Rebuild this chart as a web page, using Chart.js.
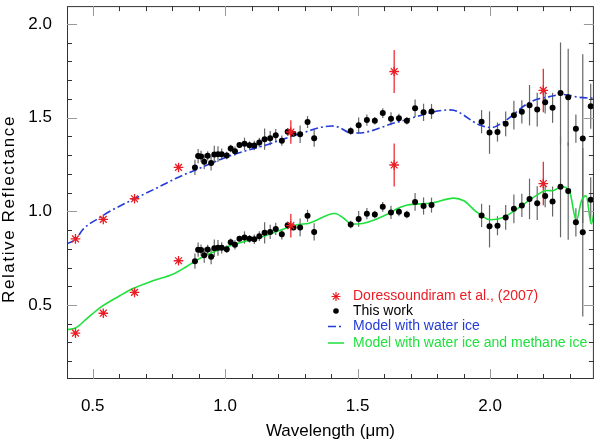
<!DOCTYPE html>
<html>
<head>
<meta charset="utf-8">
<script src="https://cdn.jsdelivr.net/npm/chart.js@4.4.1/dist/chart.umd.min.js"></script>
<style>
  html, body { margin: 0; padding: 0; background: #fff; }
  #wrap { position: relative; width: 600px; height: 444px; }
</style>
</head>
<body>
<div id="wrap"><canvas id="chart"></canvas></div>
<script>
// "This work" spectrum (two copies, the upper one shifted for the water ice model)
const workWave = [0.886, 0.898, 0.909, 0.921, 0.934, 0.947, 0.959, 0.973, 0.987, 1.006,
  1.021, 1.037, 1.054, 1.073, 1.092, 1.110, 1.129, 1.149, 1.170, 1.191, 1.214, 1.236,
  1.258, 1.283, 1.311, 1.336, 1.474, 1.504, 1.535, 1.565, 1.595, 1.626, 1.656, 1.686,
  1.717, 1.749, 1.779, 1.968, 1.998, 2.028, 2.059, 2.090, 2.120, 2.149, 2.178, 2.208,
  2.236, 2.266, 2.295, 2.324, 2.350, 2.380];
const workUpper = [1.234, 1.295, 1.293, 1.265, 1.296, 1.258, 1.303, 1.305, 1.305, 1.298,
  1.335, 1.321, 1.354, 1.360, 1.353, 1.351, 1.367, 1.385, 1.390, 1.406, 1.377, 1.425,
  1.414, 1.411, 1.476, 1.390, 1.429, 1.459, 1.487, 1.483, 1.524, 1.494, 1.497, 1.483,
  1.550, 1.528, 1.533, 1.478, 1.420, 1.423, 1.467, 1.513, 1.531, 1.566, 1.543, 1.582,
  1.552, 1.631, 1.608, 1.441, 1.388, 1.561];
const workLower = [0.734, 0.795, 0.793, 0.765, 0.796, 0.758, 0.803, 0.805, 0.805, 0.798,
  0.835, 0.821, 0.854, 0.860, 0.853, 0.851, 0.867, 0.885, 0.890, 0.906, 0.877, 0.925,
  0.914, 0.914, 0.976, 0.890, 0.929, 0.959, 0.987, 0.983, 1.024, 0.994, 0.997, 0.983,
  1.050, 1.028, 1.033, 0.978, 0.920, 0.923, 0.967, 1.013, 1.031, 1.066, 1.043, 1.082,
  1.052, 1.131, 1.108, 0.941, 0.888, 1.061];
const workErr = [0.041, 0.038, 0.03, 0.04, 0.025, 0.04, 0.047, 0.042, 0.03, 0.02,
  0.02, 0.025, 0.015, 0.033, 0.02, 0.025, 0.026, 0.057, 0.038, 0.033, 0.027, 0.02,
  0.015, 0.047, 0.032, 0.046, 0.02, 0.042, 0.03, 0.02, 0.026, 0.035, 0.024, 0.02,
  0.047, 0.046, 0.04, 0.062, 0.113, 0.051, 0.066, 0.077, 0.062, 0.108, 0.09, 0.06,
  0.08, 0.27, 0.26, 0.075, 0.45, 0.12];

// Doressoundiram et al. (2007) photometry
const starWave = [0.435, 0.540, 0.658, 0.824, 1.248, 1.638, 2.201];
const starUpper = [0.853, 0.957, 1.067, 1.234, 1.423, 1.746, 1.645];
const starLower = [0.350, 0.456, 0.567, 0.736, 0.923, 1.247, 1.148];
const starErr = [0, 0, 0, 0, 0.063, 0.115, 0.116];

// models
const waterWave = [0.40, 0.435, 0.465, 0.527, 0.565, 0.658, 0.740, 0.815, 0.902, 1.026,
  1.152, 1.276, 1.401, 1.426, 1.476, 1.501, 1.651, 1.851, 1.963, 2.006, 2.05, 2.15,
  2.225, 2.275, 2.337, 2.40];
const waterRefl = [0.826, 0.850, 0.906, 0.967, 1.000, 1.067, 1.123, 1.176, 1.229, 1.300,
  1.353, 1.411, 1.455, 1.450, 1.418, 1.418, 1.476, 1.541, 1.459, 1.447, 1.476, 1.582,
  1.612, 1.623, 1.608, 1.603];
const methaneWave = [0.40, 0.435, 0.478, 0.527, 0.602, 0.652, 0.727, 0.802, 0.852, 0.902,
  1.002, 1.152, 1.276, 1.314, 1.414, 1.451, 1.476, 1.501, 1.614, 1.651, 1.688, 1.776,
  1.863, 1.901, 1.951, 2.0, 2.05, 2.113, 2.175, 2.213, 2.238, 2.269, 2.30, 2.326, 2.345,
  2.363, 2.382, 2.40];
const methaneRefl = [0.368, 0.377, 0.427, 0.485, 0.549, 0.588, 0.629, 0.664, 0.703, 0.747,
  0.808, 0.870, 0.929, 0.935, 0.988, 0.959, 0.932, 0.932, 0.985, 1.015, 1.034, 1.043,
  1.070, 1.056, 0.994, 0.955, 0.967, 1.024, 1.085, 1.111, 1.110, 1.131, 1.106, 0.950,
  1.056, 1.082, 0.932, 1.066];

const xTicks = [0.5, 1.0, 1.5, 2.0];
const yTicks = [0.5, 1.0, 1.5, 2.0];
const legendNames = ["Doressoundiram et al., (2007)", "This work", "Model with water ice",
  "Model with water ice and methane ice"];

const RED = "rgb(235,28,36)";
const BLUE = "rgb(35,60,215)";
const GREEN = "rgb(30,225,60)";
const FONT = "'Liberation Sans', Arial, Helvetica, sans-serif";

const toPoints = (xs, ys) => xs.map((x, i) => ({ x: x, y: ys[i] }));

// error bars, drawn under the markers
const errorBars = {
  id: "errorBars",
  beforeDatasetsDraw(chart) {
    const { ctx, chartArea, scales } = chart;
    ctx.save();
    ctx.beginPath();
    ctx.rect(chartArea.left, chartArea.top, chartArea.width, chartArea.height);
    ctx.clip();
    chart.data.datasets.forEach(ds => {
      if (!ds.errors) return;
      ctx.strokeStyle = ds.errorColor;
      ctx.lineWidth = 1.2;
      ds.data.forEach((p, i) => {
        const e = ds.errors[i];
        if (!e) return;
        const x = scales.x.getPixelForValue(p.x);
        ctx.beginPath();
        ctx.moveTo(x, scales.y.getPixelForValue(p.y - e));
        ctx.lineTo(x, scales.y.getPixelForValue(p.y + e));
        ctx.stroke();
      });
    });
    ctx.restore();
  }
};

// IDL style box with inward ticks, y title and the legend
const frame = {
  id: "frame",
  afterDraw(chart) {
    const { ctx, chartArea: a, scales } = chart;
    const sx = scales.x, sy = scales.y;
    ctx.save();
    ctx.strokeStyle = "#333";
    ctx.lineWidth = 1;
    ctx.strokeRect(a.left + 0.5, a.top + 0.5, a.width - 1, a.height - 1);

    const tick = (vals, len, color) => {
      ctx.strokeStyle = color;
      ctx.beginPath();
      vals.forEach(v => {
        const px = Math.round(sx.getPixelForValue(v)) + 0.5;
        ctx.moveTo(px, a.bottom); ctx.lineTo(px, a.bottom - len);
        ctx.moveTo(px, a.top); ctx.lineTo(px, a.top + len);
      });
      ctx.stroke();
    };
    const ytick = (vals, len, color) => {
      ctx.strokeStyle = color;
      ctx.beginPath();
      vals.forEach(v => {
        const py = Math.round(sy.getPixelForValue(v)) + 0.5;
        ctx.moveTo(a.left, py); ctx.lineTo(a.left + len, py);
        ctx.moveTo(a.right, py); ctx.lineTo(a.right - len, py);
      });
      ctx.stroke();
    };
    const minors = (s, majors) => {
      const out = [];
      for (let k = Math.ceil(s.min * 10); k <= Math.floor(s.max * 10); k++) {
        if (!majors.some(m => Math.abs(m * 10 - k) < 1e-6)) out.push(k / 10);
      }
      return out;
    };
    tick(minors(sx, xTicks), 5, "#333");
    tick(xTicks, 10, "#999");
    ytick(minors(sy, yTicks), 5, "#333");
    ytick(yTicks, 10, "#999");

    // y axis title
    ctx.save();
    ctx.translate(9, 209);
    ctx.rotate(-Math.PI / 2);
    ctx.font = "17px " + FONT;
    ctx.letterSpacing = "1.6px";
    ctx.fillStyle = "#000";
    ctx.textAlign = "center";
    ctx.textBaseline = "middle";
    ctx.fillText("Relative Reflectance", 0, 0);
    ctx.restore();

    // legend
    const lx = 336, tx = 353;
    const rows = [296.5, 311, 326.5, 343];
    ctx.font = "14px " + FONT;
    ctx.textBaseline = "middle";
    ctx.textAlign = "left";
    ctx.strokeStyle = RED;
    ctx.fillStyle = RED;
    ctx.lineWidth = 1.2;
    Chart.helpers.drawPoint(ctx, { pointStyle: "star", radius: 4.5, borderWidth: 1.2 }, lx, rows[0]);
    ctx.fillStyle = "#000";
    ctx.beginPath(); ctx.arc(lx, rows[1], 2.8, 0, Math.PI * 2); ctx.fill();
    ctx.lineWidth = 1.5;
    ctx.strokeStyle = BLUE;
    ctx.setLineDash([8, 3, 2, 3]);
    ctx.beginPath(); ctx.moveTo(328, rows[2]); ctx.lineTo(344, rows[2]); ctx.stroke();
    ctx.setLineDash([]);
    ctx.strokeStyle = GREEN;
    ctx.beginPath(); ctx.moveTo(328, rows[3]); ctx.lineTo(344, rows[3]); ctx.stroke();
    const colors = [RED, "#000", BLUE, GREEN];
    legendNames.forEach((t, i) => { ctx.fillStyle = colors[i]; ctx.fillText(t, tx, rows[i]); });
    ctx.restore();
  }
};

const starStyle = {
  showLine: false, pointStyle: "star", pointRadius: 4.8, pointBorderWidth: 1.3,
  borderColor: RED, backgroundColor: RED, errorColor: RED, errors: starErr, order: 1
};
const workStyle = {
  showLine: false, pointRadius: 3, pointBorderWidth: 0, borderColor: "#000",
  backgroundColor: "#000", errorColor: "#666", errors: workErr, order: 2
};

new Chart(document.getElementById("chart"), {
  type: "scatter",
  data: {
    datasets: [
      { label: legendNames[3], data: toPoints(methaneWave, methaneRefl), showLine: true,
        borderColor: GREEN, borderWidth: 1.6, pointRadius: 0, cubicInterpolationMode: "monotone", order: 4 },
      { label: legendNames[2], data: toPoints(waterWave, waterRefl), showLine: true,
        borderColor: BLUE, borderWidth: 1.6, borderDash: [8, 3, 2, 3], pointRadius: 0,
        cubicInterpolationMode: "monotone", order: 3 },
      Object.assign({ label: legendNames[1], data: toPoints(workWave, workUpper) }, workStyle),
      Object.assign({ label: legendNames[1], data: toPoints(workWave, workLower) }, workStyle),
      Object.assign({ label: legendNames[0], data: toPoints(starWave, starUpper) }, starStyle),
      Object.assign({ label: legendNames[0], data: toPoints(starWave, starLower) }, starStyle)
    ]
  },
  options: {
    responsive: true,
    maintainAspectRatio: false,
    animation: false,
    layout: { padding: { top: 3, right: 2, left: 0, bottom: 0 } },
    plugins: { legend: { display: false }, tooltip: { enabled: false } },
    scales: {
      x: {
        type: "linear", min: 0.403, max: 2.392,
        grid: { display: false }, border: { display: false },
        afterBuildTicks: s => { s.ticks = xTicks.map(v => ({ value: v })); },
        afterFit: s => { s.height = 65; s.paddingLeft = 0; s.paddingRight = 0; },
        ticks: { autoSkip: false, maxRotation: 0, padding: 9, color: "#000",
          font: { size: 17, family: FONT }, callback: v => v.toFixed(1) },
        title: { display: true, text: "Wavelength (\u03bcm)", color: "#000", padding: 2,
          font: { size: 17, family: FONT } }
      },
      y: {
        type: "linear", min: 0.105, max: 2.095,
        grid: { display: false }, border: { display: false },
        afterBuildTicks: s => { s.ticks = yTicks.map(v => ({ value: v })); },
        afterFit: s => { s.width = 67; s.paddingTop = 0; s.paddingBottom = 0; },
        ticks: { autoSkip: false, padding: 7, color: "#000",
          font: { size: 17, family: FONT }, callback: v => v.toFixed(1) },
        title: { display: false }
      }
    }
  },
  plugins: [errorBars, frame]
});
</script>
</body>
</html>
